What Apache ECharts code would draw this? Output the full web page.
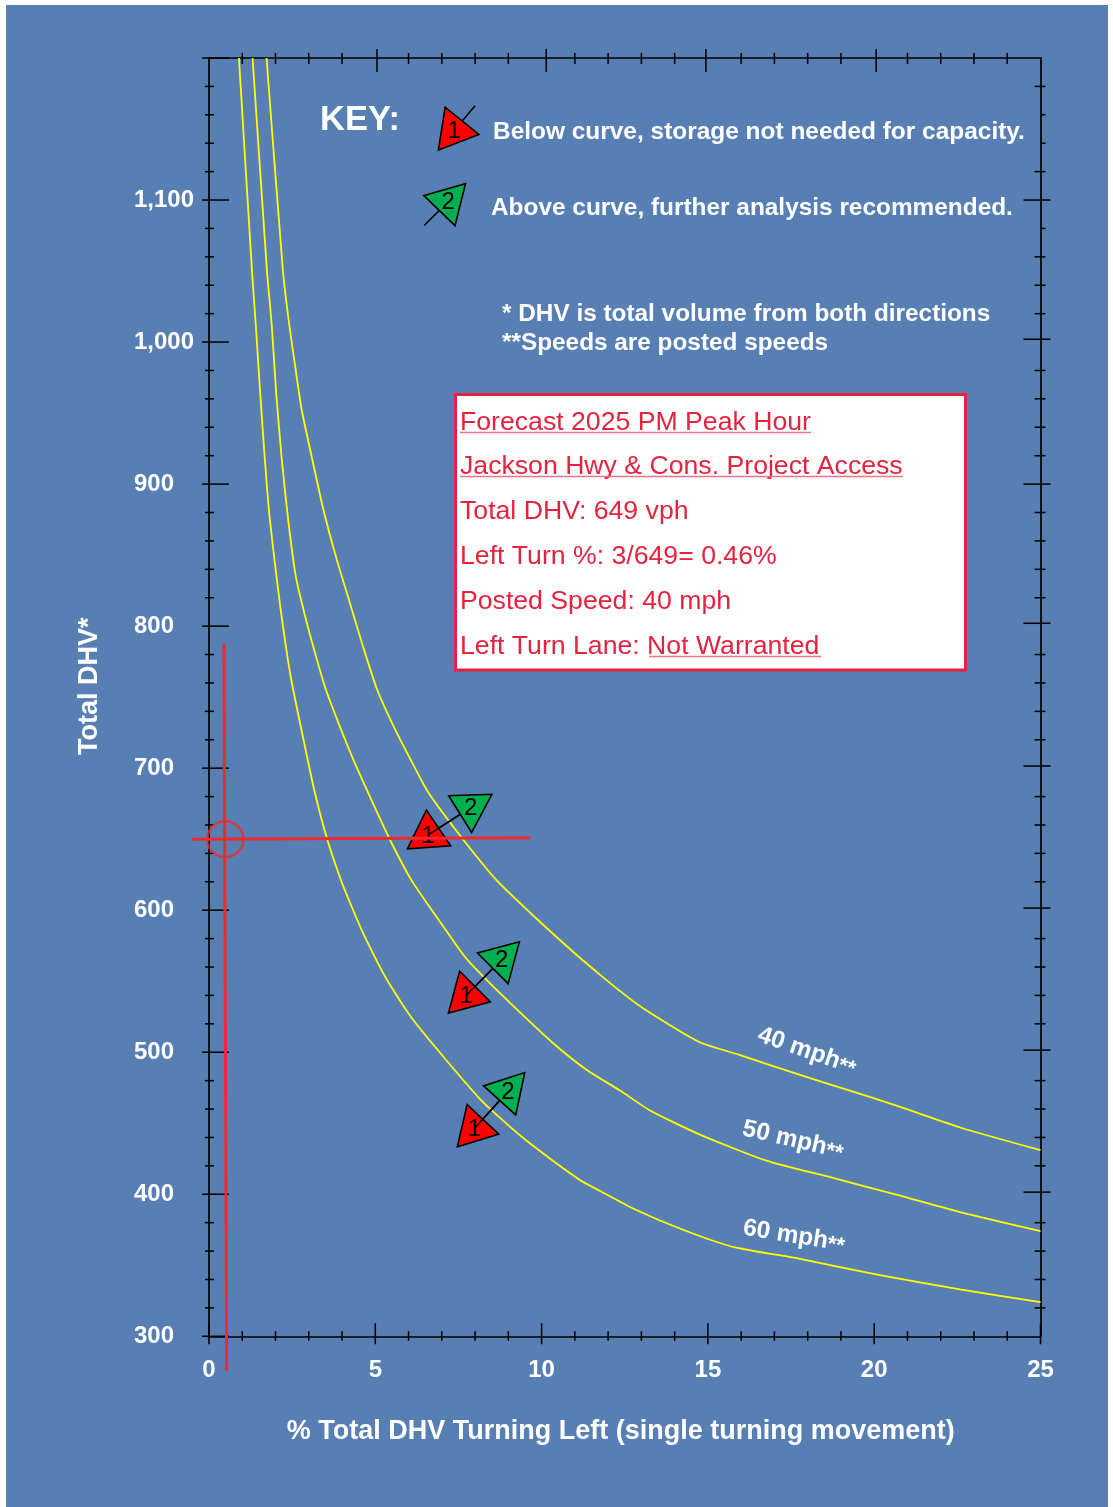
<!DOCTYPE html>
<html><head><meta charset="utf-8">
<style>html,body{margin:0;padding:0;background:#fff}
#bg{position:absolute;left:6px;top:5px;width:1102px;height:1502px;background:#587fb3}
#chart{position:absolute;left:0;top:0;width:1113px;height:1507px}</style>
<script src="https://cdn.jsdelivr.net/npm/echarts@6/dist/echarts.min.js"></script>
</head><body><div id="bg"></div><div id="chart"></div>
<script>
// ---- data: [% turning left, total DHV]
const curve40 = [[1.73,1200],[2.22,1051],[2.38,1018],[2.59,983],[2.79,952],[3.09,919],[3.44,882],[3.84,847],[4.24,816],[4.64,785],[5.06,755],[5.54,730],[6.04,707],[6.59,683],[7.60,651],[8.65,621],[9.85,594],[11.15,566.5],[11.76,554.5],[12.36,543],[13.05,531],[14.76,507],[15.97,498],[17.77,484],[19.27,473],[20.78,461.5],[22.58,447],[25,431]];
const curve50 = [[1.31,1200],[1.74,1051],[1.89,1011],[2.02,964],[2.19,917],[2.38,875],[2.61,835],[2.89,807],[3.19,781],[3.49,757],[3.89,732],[4.34,706],[4.74,685],[5.41,651],[6.09,621],[6.85,595],[7.65,568.5],[8.05,558],[8.95,537],[10.34,506.5],[11.36,487.5],[12.36,473],[13.26,459],[14.76,442],[16.78,423.5],[18.76,411.5],[20.78,399],[22.58,387.5],[25,374]];
const curve60 = [[0.90,1200],[1.29,1051],[1.41,1011],[1.54,964],[1.68,917],[1.83,875],[2.13,816],[2.46,764],[2.86,718],[3.16,685],[3.54,651],[3.97,621],[4.21,607],[4.63,584],[5.35,551],[6.13,523],[7.04,497],[8.15,467],[8.75,453.8],[9.56,437.5],[11.15,410],[11.76,402.3],[12.75,390],[14.25,375],[15.75,363],[17.77,354.5],[20.17,343],[22.58,333],[25,324]];
const crossH = [-0.51,650,9.66,651];
const crossV = [0.45,787.5,0.53,275.6];
const crossPoint = [[0.49,650]];
const movement1 = [[6.59,653],[7.73,540],[7.98,446.3]];
const movement2 = [[7.87,672.3],[8.80,565.3],[8.99,472.6]];
const keyMovement1 = [7.37,1148.9], keyStub1 = [8.0,1166.4];
const keyMovement2 = [7.19,1098.9], keyStub2 = [6.47,1082.1];
const yLabels = {300:'300',400:'400',500:'500',600:'600',700:'700',800:'800',900:'900',1000:'1,000',1100:'1,100'};
const xTicks = [];for(let i=0;i<=25;i++)xTicks.push(i);
const yTicks = [];for(let i=300;i<=1200;i+=20)yTicks.push(i);
const topMajorTicks = [5.05,10.14,14.94,20.06];
const rightMajorTicks = [1100,1002,900,802,701.5,601.5,501.5,401.5];
const rightShortTicks = [1160,1140,1080];

const FONT='"Liberation Sans",Arial,sans-serif';
const BLACK='#000',YEL='#ffff00',RED='#ee2a30',BOX='#e4233f',WHITE='#fff';

// lengths of a tick on each side of the edge it sits on: [outside, inside]
function tickSeries(name,values,edge,lengths){
  return {type:'custom',name,silent:true,z:3,clip:false,data:values.map(v=>[v]),
    renderItem(p,api){
      const v=api.value(0),[out,inn]=lengths(v);
      if(edge==='bottom'||edge==='top'){
        const c=api.coord([v,edge==='bottom'?300:1200]),s=edge==='bottom'?1:-1;
        return {type:'line',shape:{x1:c[0],x2:c[0],y1:c[1]-s*inn,y2:c[1]+s*out},style:{stroke:BLACK,lineWidth:1.5}};
      }
      const c=api.coord([edge==='left'?0:25,v]),s=edge==='left'?1:-1;
      return {type:'line',shape:{x1:c[0]-s*out,x2:c[0]+s*inn,y1:c[1],y2:c[1]},style:{stroke:BLACK,lineWidth:1.5}};
    }};
}
function markerSeries(name,items,z){
  return {type:'custom',name,silent:true,z,clip:false,data:items,
    renderItem(p,api){
      const c=api.coord([api.value(0),api.value(1)]),e=api.coord([api.value(2),api.value(3)]);
      const r=api.value(4)*Math.PI/180,R=25,col=api.value(5)===1?'#ff0000':'#00b050';
      const pts=[0,120,240].map(a=>{const t=r+a*Math.PI/180;return [c[0]-R*Math.sin(t),c[1]-R*Math.cos(t)];});
      return {type:'group',children:[
        {type:'line',shape:{x1:c[0],y1:c[1],x2:e[0],y2:e[1]},style:{stroke:BLACK,lineWidth:1.5}},
        {type:'polygon',shape:{points:pts},style:{fill:col,stroke:BLACK,lineWidth:1.6,lineJoin:'miter'}},
        {type:'text',style:{x:c[0],y:c[1]+1,text:String(api.value(5)),font:'24px '+FONT,fill:BLACK,textAlign:'center',textVerticalAlign:'middle'}}
      ]};
    }};
}
function crossSeries(name,seg){
  return {type:'custom',name,silent:true,z:5,clip:false,data:[seg],
    renderItem(p,api){
      const a=api.coord([api.value(0),api.value(1)]),b=api.coord([api.value(2),api.value(3)]);
      return {type:'line',shape:{x1:a[0],y1:a[1],x2:b[0],y2:b[1]},style:{stroke:RED,lineWidth:3}};
    }};
}
const rot1=[4,15,17],rot2=[182,195,198];
const markerItems=[];
movement1.forEach((m,i)=>{const o=movement2[i];
  markerItems.push([m[0],m[1],o[0],o[1],rot1[i],1]);markerItems.push([o[0],o[1],m[0],m[1],rot2[i],2]);});
const keyItems=[[...keyMovement1,...keyStub1,21,1],[...keyMovement2,...keyStub2,196,2]];

const curveStyle=(name,data)=>({type:'line',name,data,showSymbol:false,symbol:'none',smooth:0.2,silent:true,z:2,clip:false,lineStyle:{color:YEL,width:1.8}});

const txt=(x,y,text,size,opt={})=>({type:'text',x,y,z:10,style:{text,font:(opt.weight||'bold')+' '+size+'px '+FONT,fill:opt.fill||WHITE,textAlign:'left',textVerticalAlign:'middle'}});
const ul=(x1,x2,y)=>({type:'line',z:11,shape:{x1,x2,y1:y,y2:y},style:{stroke:'#ee7488',lineWidth:1.6}});
const spd=(x,y,deg,a)=>({type:'text',x,y,rotation:deg*Math.PI/180,z:10,style:{text:'{a|'+a+' mph}{b|**}',fill:WHITE,align:'center',verticalAlign:'middle',
   rich:{a:{font:'bold 24.5px '+FONT,fill:WHITE},b:{font:'bold 22px '+FONT,fill:WHITE,padding:[6,0,0,0]}}}});

const axisLine={show:true,onZero:false,lineStyle:{color:BLACK,width:1.7}};
const rightMajor=new Set(rightMajorTicks),rightShort=new Set(rightShortTicks),topMajor=new Set(topMajorTicks);

const chart=echarts.init(document.getElementById('chart'),null,{renderer:'canvas',width:1113,height:1507});
chart.setOption({
  animation:false,
  backgroundColor:'transparent',
  grid:{left:209,right:72.5,top:58,bottom:170.7,containLabel:false},
  xAxis:[
   {type:'value',position:'bottom',min:0,max:25,interval:5,name:'% Total DHV Turning Left (single turning movement)',nameLocation:'middle',nameGap:82,
    nameTextStyle:{color:WHITE,fontFamily:FONT,fontWeight:'bold',fontSize:27,padding:[0,8,0,0]},
    axisLine,axisTick:{show:false},splitLine:{show:false},
    axisLabel:{color:WHITE,fontFamily:FONT,fontWeight:'bold',fontSize:24,margin:22}},
   {type:'value',position:'top',min:0,max:25,interval:5,axisLine,axisTick:{show:false},splitLine:{show:false},axisLabel:{show:false}}
  ],
  yAxis:[
   {type:'value',position:'left',min:300,max:1200,interval:100,name:'Total DHV*',nameLocation:'middle',nameGap:106,nameRotate:90,
    nameTextStyle:{color:WHITE,fontFamily:FONT,fontWeight:'bold',fontSize:27,padding:[0,0,0,22]},
    axisLine,axisTick:{show:false},splitLine:{show:false},
    axisLabel:{color:WHITE,fontFamily:FONT,fontWeight:'bold',fontSize:24,align:'left',margin:75,padding:[4,0,0,0],formatter:v=>yLabels[v]||''}},
   {type:'value',position:'right',min:300,max:1200,interval:100,axisLine,axisTick:{show:false},splitLine:{show:false},axisLabel:{show:false}}
  ],
  series:[
   curveStyle('40 mph',curve40),curveStyle('50 mph',curve50),curveStyle('60 mph',curve60),
   tickSeries('bottom ticks',xTicks,'bottom',v=>v%5===0?[8,13]:[4.5,5]),
   tickSeries('top ticks',xTicks.filter(v=>v>0&&v<25&&v%5!==0).concat(topMajorTicks),'top',v=>topMajor.has(v)?[9,14]:[5,6]),
   tickSeries('left ticks',yTicks,'left',v=>v%100===0?[7,20]:[4,5]),
   tickSeries('right ticks',yTicks.filter(v=>v>300&&v<1200&&v%100!==0).concat(rightMajorTicks),'right',v=>rightMajor.has(v)?[10,17]:(rightShort.has(v)?[5,0]:[5,6])),
   markerSeries('movement markers',markerItems,4),
   markerSeries('key markers',keyItems,4),
   crossSeries('forecast DHV',crossH),crossSeries('forecast left turn %',crossV),
   {type:'scatter',name:'forecast point',data:crossPoint,symbol:'circle',symbolSize:36,silent:true,z:5,clip:false,itemStyle:{color:'rgba(0,0,0,0)',borderColor:RED,borderWidth:2.5}}
  ],
  graphic:{elements:[
    txt(320,120,'KEY:',34.5),
    txt(493,132,'Below curve, storage not needed for capacity.',24.45),
    txt(491,208,'Above curve, further analysis recommended.',24.4),
    txt(502,314,'* DHV is total volume from both directions',24.35),
    txt(502,343,'**Speeds are posted speeds',24.35),
    {type:'rect',z:9,shape:{x:455.5,y:394.5,width:510,height:275.5},style:{fill:'#fff',stroke:BOX,lineWidth:3}},
    txt(460,423,'Forecast 2025 PM Peak Hour',26.65,{weight:'normal',fill:BOX}),ul(460,811,432.5),
    txt(460,467,'Jackson Hwy & Cons. Project Access',26.65,{weight:'normal',fill:BOX}),ul(460,903,476.5),
    txt(460,512,'Total DHV: 649 vph',26.65,{weight:'normal',fill:BOX}),
    txt(460,557,'Left Turn %: 3/649= 0.46%',26.65,{weight:'normal',fill:BOX}),
    txt(460,602,'Posted Speed: 40 mph',26.65,{weight:'normal',fill:BOX}),
    txt(460,647,'Left Turn Lane: Not Warranted',26.65,{weight:'normal',fill:BOX}),ul(649,821,656.5),
    spd(807,1051,-19,40),spd(793,1140,-13,50),spd(794,1236,-9,60)
  ]}
});
</script></body></html>
